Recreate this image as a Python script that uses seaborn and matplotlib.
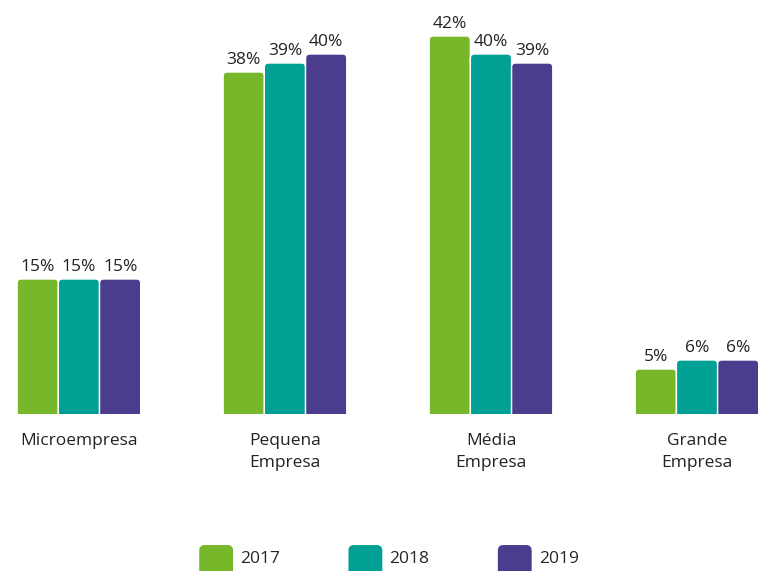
import pandas as pd
import matplotlib.pyplot as plt
import seaborn as sns
from matplotlib.patches import FancyBboxPatch, Patch
from matplotlib.legend_handler import HandlerPatch

# dados
portes = ['Microempresa', 'Pequena\nEmpresa', 'Média\nEmpresa', 'Grande\nEmpresa']
anos = ['2017', '2018', '2019']
v2017 = [15, 38, 42, 5]
v2018 = [15, 39, 40, 6]
v2019 = [15, 40, 39, 6]
cores = ['#76b82a', '#00a094', '#4b3c8e']

df = pd.DataFrame({
    'porte': portes * 3,
    'ano': [a for a in anos for _ in portes],
    'valor': v2017 + v2018 + v2019,
})

sns.set_style('white')
plt.rcParams['font.family'] = ['Open Sans', 'DejaVu Sans']

fig = plt.figure(figsize=(7.58, 5.71), dpi=100)
ax = fig.add_axes([0, 0.275, 1, 0.725])

sns.barplot(data=df, x='porte', y='valor', hue='ano', palette=cores,
            width=0.6, saturation=1, edgecolor='white', linewidth=1, ax=ax,
            legend=False)

for c in ax.containers:
    ax.bar_label(c, fmt='{:.0f}%', padding=3, fontsize=12.5, color='#222222')

ax.set_xlim(-0.383, 3.296)
ax.set_ylim(0, 46)

# barras com cantos arredondados
for c in ax.containers:
    for p in c.patches:
        x, w, h = p.get_x(), p.get_width(), p.get_height()
        fb = FancyBboxPatch((x, -2), w, h + 2,
                            boxstyle='round,pad=0,rounding_size=0.02',
                            mutation_aspect=22.9,
                            fc=p.get_facecolor(), ec='white', lw=1)
        ax.add_patch(fb)
        p.set_visible(False)

sns.despine(left=True, bottom=True)
ax.set_xlabel('')
ax.set_ylabel('')
ax.set_yticks([])
ax.tick_params(axis='x', length=0, pad=14, labelsize=12.5, labelcolor='#222222')
for t in ax.get_xticklabels():
    t.set_linespacing(1.45)

def rounded(legend, orig_handle, xdescent, ydescent, width, height, fontsize):
    return FancyBboxPatch((-xdescent, -ydescent - 4), width, height + 4,
                          boxstyle='round,pad=0,rounding_size=4')

handles = [Patch(facecolor=c, edgecolor='none') for c in cores]
fig.legend(handles, anos, loc='center', bbox_to_anchor=(0.513, 0.023),
           ncol=3, frameon=False, fontsize=12.5, handlelength=1.95,
           handleheight=1.9, handletextpad=0.4, columnspacing=3.95,
           handler_map={Patch: HandlerPatch(patch_func=rounded)})

plt.savefig('out.png', dpi=100)
